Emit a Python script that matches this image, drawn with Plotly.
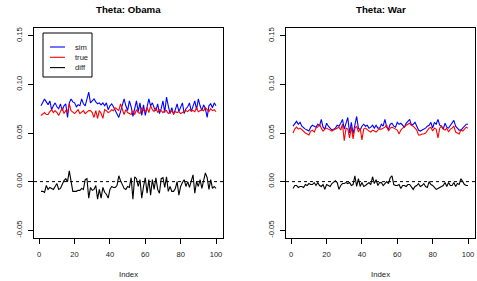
import plotly.graph_objects as go

index = list(range(1, 101))

sim_obama = [0.078, 0.081, 0.085, 0.082, 0.079, 0.083, 0.074, 0.078, 0.081, 0.077,
             0.075, 0.080, 0.073, 0.078, 0.080, 0.066, 0.081, 0.085, 0.082, 0.081,
             0.077, 0.079, 0.078, 0.085, 0.080, 0.078, 0.085, 0.092, 0.081, 0.083,
             0.085, 0.082, 0.080, 0.081, 0.079, 0.081, 0.078, 0.081, 0.074, 0.078,
             0.080, 0.077, 0.073, 0.070, 0.066, 0.072, 0.080, 0.085, 0.078, 0.073,
             0.083, 0.077, 0.067, 0.075, 0.083, 0.072, 0.081, 0.068, 0.079, 0.068,
             0.076, 0.085, 0.078, 0.081, 0.076, 0.073, 0.080, 0.070, 0.075, 0.083,
             0.071, 0.087, 0.078, 0.070, 0.076, 0.069, 0.074, 0.080, 0.072, 0.077,
             0.081, 0.070, 0.075, 0.077, 0.081, 0.072, 0.077, 0.083, 0.074, 0.085,
             0.078, 0.073, 0.079, 0.075, 0.066, 0.078, 0.080, 0.076, 0.081, 0.078]

true_obama = [0.068, 0.070, 0.071, 0.069, 0.069, 0.072, 0.074, 0.071, 0.073, 0.071,
              0.068, 0.072, 0.076, 0.070, 0.073, 0.071, 0.080, 0.073, 0.071, 0.070,
              0.072, 0.074, 0.070, 0.072, 0.073, 0.070, 0.072, 0.073, 0.073, 0.071,
              0.066, 0.073, 0.065, 0.073, 0.070, 0.065, 0.074, 0.073, 0.071, 0.072,
              0.074, 0.073, 0.076, 0.074, 0.073, 0.080, 0.073, 0.069, 0.074, 0.071,
              0.070, 0.069, 0.073, 0.069, 0.074, 0.071, 0.070, 0.076, 0.073, 0.072,
              0.076, 0.071, 0.078, 0.074, 0.072, 0.076, 0.071, 0.074, 0.073, 0.071,
              0.073, 0.073, 0.070, 0.071, 0.073, 0.070, 0.072, 0.071, 0.072, 0.070,
              0.071, 0.072, 0.073, 0.072, 0.074, 0.073, 0.073, 0.072, 0.076, 0.072,
              0.073, 0.074, 0.073, 0.076, 0.074, 0.072, 0.075, 0.073, 0.074, 0.072]

diff_obama = [-0.010, -0.010, -0.011, -0.004, -0.008, -0.006, -0.007, -0.008, -0.005, -0.002,
              -0.008, -0.007, -0.003, 0.001, 0.003, 0.000, 0.011, -0.002, -0.010, -0.010,
              -0.010, -0.009, -0.009, -0.007, -0.008, 0.002, 0.003, -0.017, -0.006, -0.009,
              -0.008, -0.004, -0.018, -0.008, -0.017, -0.006, -0.011, -0.013, -0.017, -0.008,
              -0.005, -0.006, -0.006, -0.004, 0.006, 0.001, -0.004, -0.007, -0.008, -0.005,
              -0.006, 0.004, -0.018, 0.005, 0.003, -0.005, 0.002, -0.017, -0.005, 0.004,
              -0.012, 0.002, -0.014, 0.002, -0.008, 0.004, -0.008, -0.012, 0.003, 0.004,
              -0.006, 0.005, -0.010, -0.005, -0.010, -0.010, -0.007, 0.000, -0.014, -0.005,
              -0.001, 0.002, -0.005, 0.000, -0.006, 0.000, 0.007, -0.012, 0.000, -0.005,
              0.002, -0.007, 0.000, 0.009, 0.004, -0.008, 0.002, -0.007, -0.005, -0.007]

sim_war = [0.057, 0.060, 0.062, 0.059, 0.061, 0.057, 0.055, 0.054, 0.053, 0.052,
           0.056, 0.058, 0.057, 0.056, 0.059, 0.057, 0.064, 0.056, 0.054, 0.060,
           0.057, 0.055, 0.053, 0.054, 0.055, 0.058, 0.057, 0.060, 0.064, 0.054,
           0.061, 0.066, 0.050, 0.061, 0.049, 0.058, 0.067, 0.055, 0.053, 0.057,
           0.059, 0.057, 0.058, 0.055, 0.056, 0.058, 0.055, 0.058, 0.055, 0.055,
           0.059, 0.057, 0.064, 0.056, 0.054, 0.059, 0.060, 0.057, 0.056, 0.061,
           0.059, 0.060, 0.058, 0.056, 0.060, 0.062, 0.064, 0.058, 0.059, 0.061,
           0.057, 0.053, 0.052, 0.053, 0.054, 0.055, 0.057, 0.058, 0.061, 0.055,
           0.061, 0.059, 0.064, 0.058, 0.057, 0.054, 0.060, 0.056, 0.055, 0.058,
           0.060, 0.063, 0.057, 0.055, 0.053, 0.053, 0.055, 0.057, 0.059, 0.059]

true_war = [0.050, 0.054, 0.056, 0.054, 0.055, 0.053, 0.052, 0.050, 0.049, 0.048,
            0.052, 0.053, 0.051, 0.055, 0.056, 0.059, 0.055, 0.052, 0.054, 0.055,
            0.054, 0.053, 0.052, 0.053, 0.054, 0.055, 0.056, 0.053, 0.059, 0.042,
            0.055, 0.054, 0.045, 0.056, 0.044, 0.055, 0.057, 0.051, 0.055, 0.043,
            0.054, 0.055, 0.053, 0.052, 0.051, 0.053, 0.052, 0.051, 0.053, 0.054,
            0.054, 0.055, 0.056, 0.058, 0.052, 0.055, 0.056, 0.055, 0.054, 0.053,
            0.049, 0.053, 0.055, 0.056, 0.058, 0.059, 0.060, 0.058, 0.057, 0.055,
            0.053, 0.048, 0.048, 0.049, 0.049, 0.050, 0.053, 0.055, 0.056, 0.052,
            0.055, 0.054, 0.045, 0.055, 0.057, 0.054, 0.053, 0.055, 0.051, 0.054,
            0.055, 0.057, 0.051, 0.050, 0.049, 0.053, 0.052, 0.054, 0.056, 0.055]

diff_war = [-0.007, -0.004, -0.004, -0.006, -0.005, -0.005, -0.006, -0.003, -0.004, -0.002,
            -0.003, -0.003, -0.001, -0.004, -0.001, -0.004, -0.005, -0.003, -0.008, -0.003,
            -0.004, -0.005, -0.002, 0.000, 0.001, -0.001, -0.008, -0.004, -0.002, -0.002,
            -0.001, -0.002, -0.001, -0.004, -0.003, 0.006, -0.005, 0.003, -0.005, -0.001,
            -0.005, -0.004, -0.002, -0.001, -0.003, 0.005, -0.002, 0.002, -0.004, -0.001,
            -0.001, -0.004, -0.002, 0.000, -0.002, 0.004, 0.006, -0.003, -0.004, -0.004,
            -0.003, -0.007, -0.004, -0.004, -0.005, -0.003, -0.003, -0.006, -0.008, -0.005,
            -0.004, -0.002, -0.005, -0.004, -0.002, -0.005, -0.006, 0.000, -0.003, -0.004,
            -0.006, -0.008, -0.007, -0.006, -0.005, -0.004, -0.001, -0.005, -0.001, -0.004,
            -0.004, -0.001, -0.005, -0.002, -0.003, 0.003, 0.000, -0.003, -0.004, -0.004]

titles = ["Theta: Obama", "Theta: War"]
x_ticks = [0, 20, 40, 60, 80, 100]
y_ticks = [-0.05, 0.00, 0.05, 0.10, 0.15]
y_tick_text = ["-0.05", "0.00", "0.05", "0.10", "0.15"]
legend_names = ["sim", "true", "diff"]
colors = ["#0000FF", "#FF0000", "#000000"]

W, H = 477, 281
FONT = "Liberation Sans, Arial, Helvetica, sans-serif"

panels = [
    dict(data=[sim_obama, true_obama, diff_obama], px=(34, 223), xa="x", ya="y"),
    dict(data=[sim_war, true_war, diff_war], px=(286, 475), xa="x2", ya="y2"),
]
py_top, py_bot = 28, 238

fig = go.Figure()
layout = dict(width=W, height=H, autosize=False, margin=dict(l=0, r=0, t=0, b=0),
              paper_bgcolor="white", plot_bgcolor="white", showlegend=False,
              font=dict(family=FONT, size=8, color="#000"))
shapes, annotations = [], []

for k, p in enumerate(panels):
    for series, col in zip(p["data"], colors):
        fig.add_trace(go.Scatter(x=index, y=series, mode="lines",
                                 line=dict(color=col, width=1.1),
                                 xaxis=p["xa"], yaxis=p["ya"], hoverinfo="skip"))
    xkey = "xaxis" if k == 0 else "xaxis2"
    ykey = "yaxis" if k == 0 else "yaxis2"
    common = dict(showgrid=False, zeroline=False, showline=True, linecolor="#000",
                  linewidth=1, mirror=True, ticks="outside", ticklen=5,
                  tickcolor="#000", tickwidth=1,
                  tickfont=dict(family=FONT, size=7.6, color="#222"))
    layout[xkey] = dict(common, domain=[p["px"][0] / W, p["px"][1] / W],
                        range=[1 - 0.04 * 99, 100 + 0.04 * 99],
                        tickvals=x_ticks, anchor=p["ya"], ticklabelstandoff=4)
    layout[ykey] = dict(common, domain=[1 - py_bot / H, 1 - py_top / H],
                        range=[-0.05 - 0.008, 0.15 + 0.008],
                        tickvals=y_ticks, ticktext=y_tick_text, tickangle=-90,
                        anchor=p["xa"], ticklabelstandoff=3)
    shapes.append(dict(type="line", xref=f"{p['xa']} domain", yref=p["ya"],
                       x0=0, x1=1, y0=0, y1=0,
                       line=dict(color="#000", width=1, dash="3px,3px")))
    cx = (p["px"][0] + p["px"][1]) / 2 / W
    annotations.append(dict(text=f"<b>{titles[k]}</b>", x=cx, y=1 - 9.5 / H,
                            xref="paper", yref="paper", showarrow=False,
                            font=dict(family=FONT, size=9.7, color="#000"),
                            xanchor="center", yanchor="middle"))
    annotations.append(dict(text="Index", x=cx, y=1 - 274 / H,
                            xref="paper", yref="paper", showarrow=False,
                            font=dict(family=FONT, size=7.8, color="#222"),
                            xanchor="center", yanchor="middle"))

# legend box (left panel)
shapes.append(dict(type="rect", xref="paper", yref="paper",
                   x0=43 / W, x1=92 / W, y0=1 - 77 / H, y1=1 - 33 / H,
                   line=dict(color="#000", width=1), fillcolor="white"))
for j, (name, col) in enumerate(zip(legend_names, colors)):
    yy = 47 + 10.3 * j
    shapes.append(dict(type="line", xref="paper", yref="paper",
                       x0=50 / W, x1=65 / W, y0=1 - yy / H, y1=1 - yy / H,
                       line=dict(color=col, width=1.1)))
    annotations.append(dict(text=name, x=72.5 / W, y=1 - yy / H, xref="paper",
                            yref="paper", showarrow=False, xanchor="left",
                            yanchor="middle",
                            font=dict(family=FONT, size=7.6, color="#222")))

layout["shapes"] = shapes
layout["annotations"] = annotations
fig.update_layout(**layout)
fig.write_html("out.html",
               config={"displayModeBar": False, "staticPlot": True},
               post_script="document.body.style.margin='0px';"
                           "document.body.style.overflow='hidden';")
